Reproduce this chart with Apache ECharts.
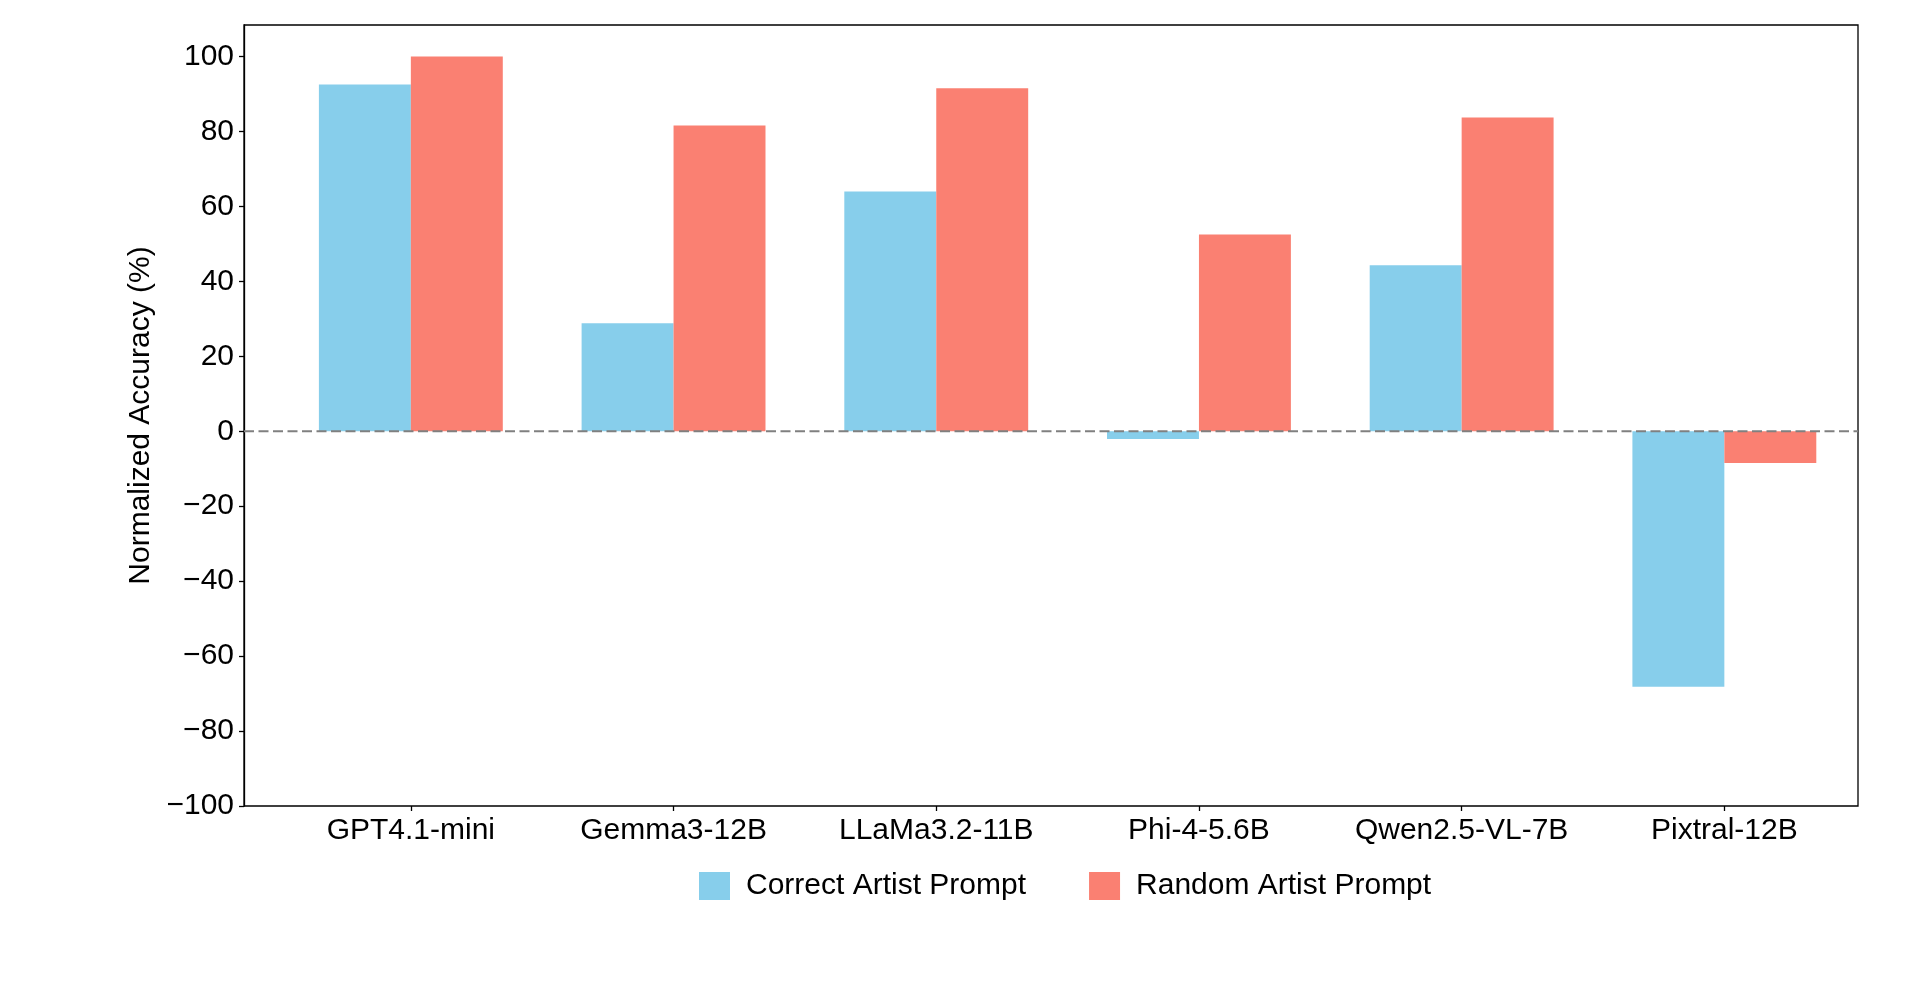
<!DOCTYPE html>
<html>
<head>
<meta charset="utf-8">
<script src="https://cdn.jsdelivr.net/npm/echarts@6/dist/echarts.min.js"></script>
<style>
html,body{margin:0;padding:0;background:#fff;}
#chart{width:1920px;height:983px;}
</style>
</head>
<body>
<div id="chart"></div>
<script>
// ---- data ----
const categories = ['GPT4.1-mini', 'Gemma3-12B', 'LLaMa3.2-11B', 'Phi-4-5.6B', 'Qwen2.5-VL-7B', 'Pixtral-12B'];
const correctArtist = [92.5, 28.8, 64.0, -2.1, 44.3, -68.2];
const randomArtist = [100.0, 81.6, 91.5, 52.5, 83.7, -8.5];
const seriesNames = ['Correct Artist Prompt', 'Random Artist Prompt'];
const yTicks = [-100, -80, -60, -40, -20, 0, 20, 40, 60, 80, 100];
const yMin = -100, yMax = 108.4;
const yTitle = 'Normalized Accuracy (%)';

// ---- layout ----
const W = 1920, H = 983;
const frameL = 244, frameR = 1858, frameT = 25, frameB = 806;
const catW = 262.7;           // category spacing in px
const barL = 279.5;           // left edge of first category band
const barR = barL + categories.length * catW;
const FONT = "'Liberation Sans', Arial, sans-serif";
const fmt = v => String(v).replace('-', '\u2212');

const chart = echarts.init(document.getElementById('chart'), null, {renderer: 'canvas'});
chart.setOption({
  animation: false,
  backgroundColor: '#fff',
  textStyle: {fontFamily: FONT},
  grid: [
    {left: barL, right: W - barR, top: frameT, bottom: H - frameB, show: false},
    {left: frameL, right: W - frameR, top: frameT, bottom: H - frameB, show: true,
     borderColor: '#000', borderWidth: 1.3, backgroundColor: 'transparent'}
  ],
  xAxis: [
    {type: 'category', gridIndex: 0, data: categories, position: 'bottom',
     axisLine: {show: false, onZero: false},
     axisTick: {show: true, alignWithLabel: true, length: 5, lineStyle: {color: '#000', width: 1.3}},
     axisLabel: {fontSize: 30, color: '#000', margin: 10, fontFamily: FONT, interval: 0},
     splitLine: {show: false}},
    {type: 'value', gridIndex: 1, min: 0, max: 1, show: false}
  ],
  yAxis: [
    {type: 'value', gridIndex: 0, min: yMin, max: yMax, show: false},
    {type: 'value', gridIndex: 1, min: yMin, max: yMax, interval: 20,
     name: yTitle, nameLocation: 'middle', nameGap: 78,
     nameTextStyle: {fontSize: 30, color: '#000', fontFamily: FONT},
     axisLine: {show: true, onZero: false, lineStyle: {color: '#000', width: 1.3}},
     axisTick: {show: true, length: 5, customValues: yTicks, lineStyle: {color: '#000', width: 1.3}},
     axisLabel: {fontSize: 30, color: '#000', margin: 10, fontFamily: FONT,
                 customValues: yTicks, formatter: v => fmt(v)},
     splitLine: {show: false}}
  ],
  legend: {
    data: seriesNames,
    left: 694, top: 866,
    orient: 'horizontal',
    icon: 'rect',
    itemWidth: 31, itemHeight: 28, itemGap: 63,
    textStyle: {fontSize: 30, color: '#000', fontFamily: FONT, padding: [0, 0, 0, 11]}
  },
  series: [
    {name: seriesNames[0], type: 'bar', xAxisIndex: 0, yAxisIndex: 0,
     data: correctArtist, barWidth: '35%', barGap: '0%',
     itemStyle: {color: '#87CEEB'}, z: 2},
    {name: seriesNames[1], type: 'bar', xAxisIndex: 0, yAxisIndex: 0,
     data: randomArtist, barWidth: '35%', barGap: '0%',
     itemStyle: {color: '#FA8072'}, z: 2},
    {name: 'zero', type: 'line', xAxisIndex: 1, yAxisIndex: 1,
     data: [[0, 0], [1, 0]], symbol: 'none', silent: true,
     lineStyle: {color: '#808080', width: 2.2, type: [10, 4.5]}, z: 5}
  ]
});
</script>
</body>
</html>
